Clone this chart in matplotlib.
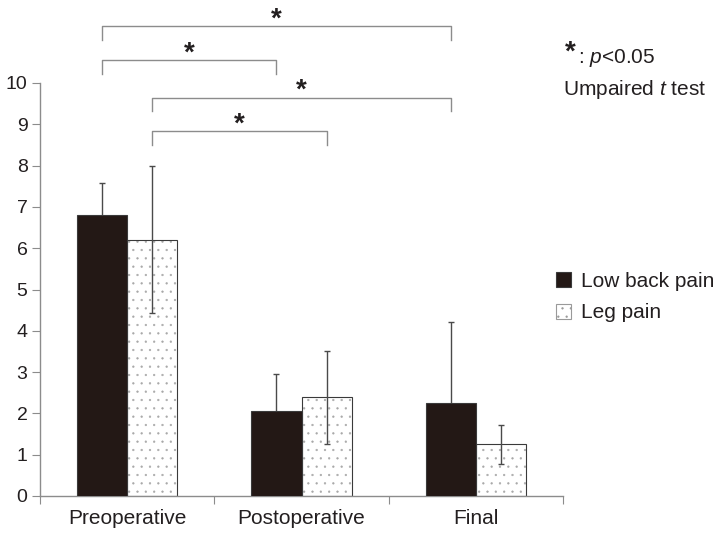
import numpy as np
import matplotlib.pyplot as plt
from matplotlib.patches import Patch

plt.rcParams['font.family'] = ['Liberation Sans', 'DejaVu Sans']
plt.rcParams['mathtext.fontset'] = 'custom'
plt.rcParams['mathtext.rm'] = 'Liberation Sans'
plt.rcParams['mathtext.it'] = 'Liberation Sans:italic'
plt.rcParams['hatch.linewidth'] = 0.4

# data
groups = ['Preoperative', 'Postoperative', 'Final']
low_back = [6.8, 2.06, 2.25]
low_back_sd = [0.78, 0.89, 1.97]
leg = [6.2, 2.39, 1.25]
leg_sd = [1.78, 1.13, 0.47]
# significance brackets: (left end bar, right end bar, height); bar = (series, group)
brackets = [(('lbp', 0), ('lbp', 2), 11.37), (('lbp', 0), ('lbp', 1), 10.55),
            (('leg', 0), ('lbp', 2), 9.64), (('leg', 0), ('leg', 1), 8.83)]

txt = '#231f20'
dark = '#231815'
grey = '#8c8c8c'

fig = plt.figure(figsize=(7.24, 5.44), dpi=100)
ax = fig.add_axes([40/724, 1-496/544, 523/724, 413/544])

x = np.arange(len(groups))
w = 0.287
xb = x - w/2
xl = x + w/2

ax.bar(xb, low_back, w, color=dark, edgecolor='#3a3a3a', lw=0.8, zorder=3)
ax.errorbar(xb, low_back, yerr=low_back_sd, fmt='none', ecolor='#4a4a4a',
            elinewidth=1, capsize=2.5, capthick=1, zorder=2)
# dotted bars: hatch layer + outline
ax.bar(xl, leg, w, color='white', edgecolor='#a8a8a8', hatch='..', lw=0, zorder=2)
ax.bar(xl, leg, w, fill=False, edgecolor='#3a3a3a', lw=0.8, zorder=2.2)
ax.errorbar(xl, leg, yerr=leg_sd, fmt='none', ecolor='#4a4a4a',
            elinewidth=1, capsize=2.5, capthick=1, zorder=3)

ax.set_xlim(-0.5, 2.5)
ax.set_ylim(0, 10)
ax.set_yticks(range(0, 11))
ax.set_xticks([-0.5, 0.5, 1.5, 2.5])
ax.set_xticklabels([])
ax.set_xticks(x, minor=True)
ax.set_xticklabels(groups, minor=True, fontsize=15, color=txt)
ax.tick_params(axis='x', which='minor', length=0, pad=9)
ax.tick_params(axis='x', which='major', length=6, color=grey)
ax.tick_params(axis='y', length=6, color=grey, labelsize=14, labelcolor=txt, pad=3)
for s in ['top', 'right']:
    ax.spines[s].set_visible(False)
for s in ['left', 'bottom']:
    ax.spines[s].set_color(grey)
    ax.spines[s].set_linewidth(1)

pos = {'lbp': xb, 'leg': xl}
drop = 0.32
for (sa, ga), (se, ge), h in brackets:
    xa, xe = pos[sa][ga], pos[se][ge]
    ax.plot([xa, xa, xe, xe], [h - drop, h, h, h - drop], color=grey, lw=1,
            clip_on=False, zorder=1)
    ax.text((xa + xe)/2, h + 0.17, '*', ha='center', va='center', fontsize=20,
            fontweight='bold', color=txt, clip_on=False)

fig.text(565/724, 1-53/544, '*', fontsize=20, fontweight='bold', color=txt,
         ha='left', va='center')
fig.text(578/724, 1-63/544, r': $\it{p}$<0.05', fontsize=15, color=txt,
         ha='left', va='baseline')
fig.text(563/724, 1-95/544, r'Umpaired $\it{t}$ test', fontsize=15, color=txt,
         ha='left', va='baseline')

handles = [Patch(facecolor=dark, edgecolor='#3a3a3a', lw=0.8),
           Patch(facecolor='white', edgecolor='#9a9a9a', hatch='..', lw=0.8)]
fig.legend(handles, ['Low back pain', 'Leg pain'], loc='center left',
           bbox_to_anchor=(556/724, 1-297/544), frameon=False, fontsize=15,
           handlelength=0.72, handleheight=0.72, handletextpad=0.47,
           labelspacing=0.62, borderpad=0, borderaxespad=0, labelcolor=txt)

fig.savefig('out.png', dpi=100)
